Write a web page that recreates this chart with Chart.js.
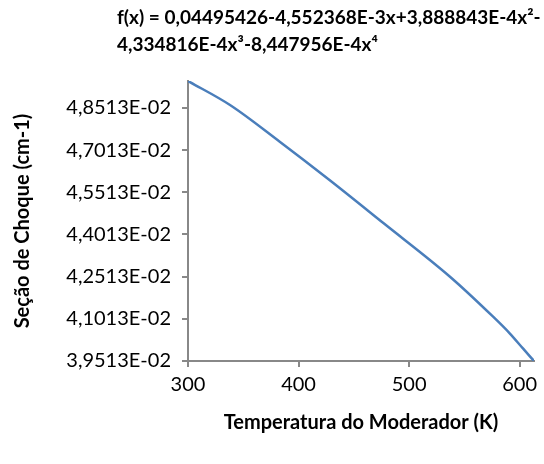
<!DOCTYPE html>
<html>
<head>
<meta charset="utf-8">
<script src="https://cdn.jsdelivr.net/npm/chart.js@4"></script>
<style>
  html, body { margin: 0; padding: 0; background: #fff; }
  #wrap { width: 544px; height: 464px; }
</style>
</head>
<body>
<div id="wrap"><canvas id="chart" width="544" height="464"></canvas></div>
<script>
// ---------------- DATA ----------------

const titleLines = [
    "f(x) = 0,04495426-4,552368E-3x+3,888843E-4x²-",
    "4,334816E-4x³-8,447956E-4x⁴"
];

const temps = [300, 338, 383, 428, 477, 537, 576, 591, 603, 613];
const secao = [0.049473, 0.048619, 0.047313, 0.045951, 0.044411, 0.042512, 0.041089, 0.040498, 0.039960, 0.039513];

const xTicks = [300, 400, 500, 600];
const yTicks = [0.039513, 0.041013, 0.042513, 0.044013, 0.045513, 0.047013, 0.048513];
const yTickLabels = ["3,9513E-02", "4,1013E-02", "4,2513E-02", "4,4013E-02", "4,5513E-02", "4,7013E-02", "4,8513E-02"];

// ---------------- CHART ----------------

const FONT = "Lato, 'Open Sans', sans-serif";
const AXIS = "#888888";

// title drawn left aligned like the spreadsheet one
const titlePlugin = {
    id: "formulaTitle",
    afterDraw(chart) {
        const ctx = chart.ctx;
        ctx.save();
        ctx.fillStyle = "#000";
        ctx.font = "bold 19px " + FONT;
        ctx.textBaseline = "middle";
        ctx.textAlign = "left";
        ctx.fillText(titleLines[0], 117, 18);
        ctx.fillText(titleLines[1], 117, 45);
        ctx.restore();
    }
};

const ctx = document.getElementById("chart").getContext("2d");

new Chart(ctx, {
    type: "scatter",
    data: {
        datasets: [{
            data: temps.map((t, i) => ({ x: t, y: secao[i] })),
            showLine: true,
            borderColor: "#4a7ebb",
            borderWidth: 2.5,
            pointRadius: 0,
            cubicInterpolationMode: "monotone",
            fill: false
        }]
    },
    options: {
        responsive: false,
        animation: false,
        layout: { padding: { top: 81, right: 10, left: 0, bottom: 0 } },
        plugins: {
            legend: { display: false },
            tooltip: { enabled: false }
        },
        scales: {
            x: {
                type: "linear",
                min: 300,
                max: 613,
                afterBuildTicks: s => { s.ticks = xTicks.map(v => ({ value: v })); },
                afterFit: s => { s.height = 103; },
                border: { color: AXIS, width: 2 },
                grid: { drawOnChartArea: false, color: AXIS, lineWidth: 2, tickLength: 6 },
                ticks: { color: "#000", font: { family: FONT, size: 20 }, padding: 6, maxRotation: 0 },
                title: {
                    display: true,
                    text: "Temperatura do Moderador (K)",
                    color: "#000",
                    font: { family: FONT, size: 20, weight: "bold" },
                    padding: { bottom: 29 }
                }
            },
            y: {
                type: "linear",
                min: 0.039513,
                max: 0.049473,
                afterBuildTicks: s => { s.ticks = yTicks.map(v => ({ value: v })); },
                afterFit: s => { s.width = 188; },
                border: { color: AXIS, width: 2 },
                grid: { drawOnChartArea: false, color: AXIS, lineWidth: 2, tickLength: 6 },
                ticks: {
                    color: "#000",
                    font: { family: FONT, size: 20 },
                    padding: 11,
                    callback: (v, i) => yTickLabels[i]
                },
                title: {
                    display: true,
                    text: "Seção de Choque (cm-1)",
                    color: "#000",
                    font: { family: FONT, size: 20, weight: "bold" },
                    padding: { top: 11 }
                }
            }
        }
    },
    plugins: [titlePlugin]
});
</script>
</body>
</html>
